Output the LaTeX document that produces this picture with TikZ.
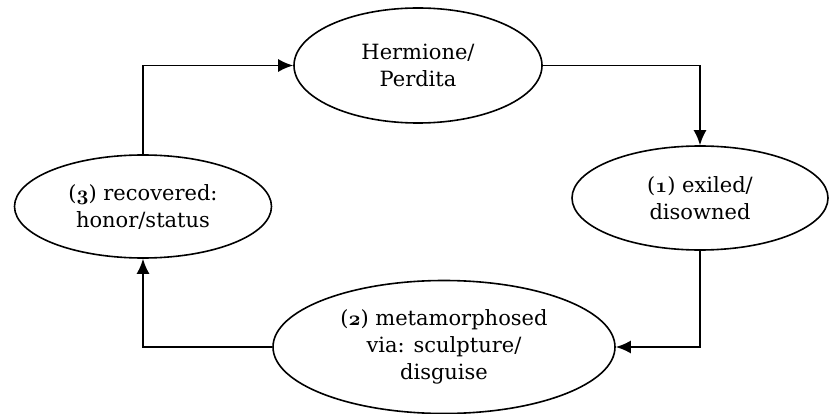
\documentclass[tikz,border=0pt]{standalone}
\usepackage{fontspec}
\setmainfont{DejaVu Serif}
\usetikzlibrary{shapes.geometric,arrows.meta}
\newcommand{\osf}[1]{{\usefont{OML}{cmm}{b}{it}#1}}
\begin{document}
\begin{tikzpicture}[x=1pt,y=-1pt,
  state/.style={draw=black,ellipse,line width=1.6pt,inner sep=0pt,align=center,
    font=\fontsize{21}{27}\selectfont},
  link/.style={draw=black,line width=1.8pt,-{Latex[length=15pt,width=13pt]}}]
\useasboundingbox (0,0) rectangle (829,414);
\node[state,minimum width=248pt,minimum height=115pt] (herm) at (418,65.5) {Hermione/\\Perdita};
\node[state,minimum width=256pt,minimum height=104pt] (ex) at (700,198) {(\osf{1}) exiled/\\disowned};
\node[state,minimum width=342pt,minimum height=133pt] (meta) at (444,347) {(\osf{2}) metamorphosed\\via: sculpture/\\disguise};
\node[state,minimum width=257pt,minimum height=103pt] (rec) at (143,206.5) {(\osf{3}) recovered:\\honor/status};
\draw[link] (rec.north) |- (herm.west);
\draw[link] (herm.east) -| (ex.north);
\draw[link] (ex.south) |- (meta.east);
\draw[link] (meta.west) -| (rec.south);
\end{tikzpicture}
\end{document}
